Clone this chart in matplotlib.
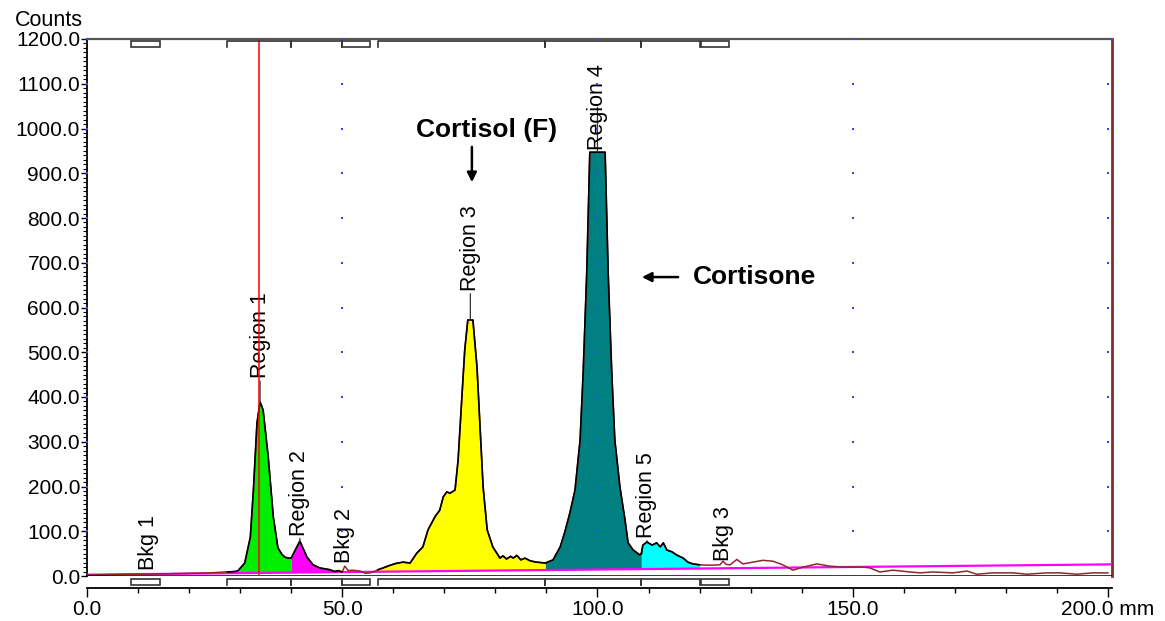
import matplotlib.pyplot as plt
import numpy as np
from matplotlib.patches import Rectangle
from matplotlib.ticker import MultipleLocator

plt.rcParams["font.family"] = ["Liberation Sans", "DejaVu Sans"]

# radio-TLC scan: position on the plate (mm) and counts
position = [
    0.0, 4.0, 8.0, 12.0, 16.0, 20.0, 24.0, 27.0, 27.5, 29.0, 29.6, 30.9, 32.0,
    32.6, 33.3, 33.9, 34.5, 35.5, 36.5, 37.4, 38.2, 38.8, 39.4, 40.0, 40.8,
    41.7, 42.4, 43.1, 44.3, 45.6, 47.6, 48.5, 49.2, 50.0, 50.5, 51.2, 52.0,
    53.5, 54.5, 55.5, 56.3, 57.0, 58.0, 59.4, 60.5, 61.9, 63.3, 64.6, 65.8,
    66.8, 68.2, 69.1, 69.8, 70.5, 71.1, 72.1, 72.7, 73.4, 74.0, 74.6, 75.6,
    76.4, 77.0, 77.6, 78.4, 79.5, 80.9, 81.5, 82.2, 83.0, 83.5, 84.2, 85.0,
    85.8, 86.8, 88.0, 89.8, 91.3, 92.7, 93.6, 94.6, 95.6, 96.6, 97.2, 97.9,
    98.5, 101.5, 102.1, 102.8, 103.4, 104.4, 105.4, 106.0, 107.0, 108.3,
    108.6, 108.9, 109.7, 110.7, 111.6, 112.3, 112.9, 113.6, 114.6, 115.5,
    116.8, 117.7, 118.7, 120.0, 122.0, 124.0, 124.6, 125.2, 126.0, 127.3,
    128.5, 130.5, 132.4, 134.4, 136.3, 138.3, 140.3, 143.0, 145.5, 148.1,
    152.0, 153.4, 155.3, 157.9, 161.2, 163.2, 165.7, 169.6, 172.4, 174.3,
    177.5, 181.4, 184.1, 188.0, 190.6, 193.9, 197.0, 200.0,
]
counts = [
    2, 3, 4, 4, 5, 6, 7, 9, 9, 10, 12, 29, 87,
    192, 342, 389, 371, 266, 132, 63, 48, 42, 40, 40, 58,
    78, 60, 42, 25, 18, 14, 10, 12, 9, 22, 12, 13,
    11, 6, 7, 10, 14, 18, 24, 28, 31, 29, 51, 65,
    103, 133, 147, 177, 188, 185, 192, 259, 393, 505, 572, 572,
    467, 333, 199, 103, 65, 40, 45, 38, 44, 40, 46, 36,
    40, 34, 31, 29, 36, 65, 98, 141, 192, 304, 454, 677,
    947, 947, 677, 454, 304, 199, 125, 74, 58, 47,
    50, 69, 76, 69, 74, 65, 74, 58, 54, 47,
    40, 31, 27, 25, 24, 25, 33, 26, 25, 37,
    27, 31, 35, 33, 25, 13, 20, 27, 22, 20,
    20, 18, 9, 13, 9, 7, 9, 7, 11, 4,
    7, 7, 4, 7, 7, 4, 7, 7,
]

# background line
baseline_pos = [0.0, 200.8]
baseline_counts = [3.0, 26.0]

region_names = ["Region 1", "Region 2", "Region 3", "Region 4", "Region 5"]
region_start = [27.5, 40.0, 57.0, 89.8, 108.6]
region_end = [40.0, 50.0, 89.8, 108.6, 120.0]
region_colors = ["#00ee00", "#ff00ff", "#ffff00", "#008080", "#00ffff"]
region_label_offset = [17, 4, 21, 1.5, 3]  # points above the peak

bkg_names = ["Bkg 1", "Bkg 2", "Bkg 3"]
bkg_start = [8.6, 50.0, 120.2]
bkg_end = [14.3, 55.5, 125.8]
bkg_label_offset = [3, 2, 0.5]

cursor_pos = 33.7

x_ticks = [0, 50, 100, 150, 200]
x_tick_labels = ["0.0", "50.0", "100.0", "150.0", "200.0 mm"]
y_ticks = list(range(0, 1201, 100))

pos = np.array(position)
cnt = np.array(counts, dtype=float)
base = np.interp(pos, baseline_pos, baseline_counts)

fig = plt.figure(figsize=(11.65, 6.21), dpi=100)
ax = fig.add_axes([87 / 1165, 45 / 621, 1025 / 1165, 537 / 621])
ax.set_xlim(0, 200.8)
ax.set_ylim(0, 1200)

# peak regions
for name, lo, hi, col, off in zip(region_names, region_start, region_end,
                                  region_colors, region_label_offset):
    m = (pos >= lo) & (pos <= hi)
    ax.fill_between(pos[m], base[m], cnt[m], color=col, lw=0, zorder=2)
    ax.plot(pos[m], cnt[m], color="black", lw=1.2, zorder=5)
    top = cnt[m].max()
    px = pos[m][cnt[m] == top].mean()
    ax.annotate(name, xy=(px, top), xytext=(0, off), textcoords="offset points",
                rotation=90, ha="center", va="bottom", fontsize=15.5, zorder=6,
                arrowprops=dict(arrowstyle="-", color="#333333", lw=0.9,
                                shrinkA=0, shrinkB=0))

for name, lo, hi, off in zip(bkg_names, bkg_start, bkg_end, bkg_label_offset):
    m = (pos >= lo) & (pos <= hi)
    top = cnt[m].max()
    px = pos[m][cnt[m] == top].mean()
    ax.annotate(name, xy=(px, top), xytext=(0, off), textcoords="offset points",
                rotation=90, ha="center", va="bottom", fontsize=15.5, zorder=6)

ax.plot(pos, cnt, color="#8b2a2a", lw=1.1, zorder=4)
ax.plot(baseline_pos, baseline_counts, color="#ff00ff", lw=1.6, zorder=3)
ax.axhline(0, color="black", lw=1.8, zorder=6)
ax.axvline(cursor_pos, color="red", lw=1.1, zorder=7)

# grid dots
gx, gy = np.meshgrid(x_ticks, y_ticks[1:])
ax.scatter(gx.ravel(), gy.ravel(), s=3, color="#3344ff", marker="s", lw=0,
           zorder=8, clip_on=False)

# region brackets on top and bottom strips
trans = ax.get_xaxis_transform()
h = 537.0
for y_hi, y_lo in [(1 - 1.5 / h, 1 - 7.5 / h), (-2.5 / h, -8.5 / h)]:
    for lo, hi in zip(region_start, region_end):
        ax.plot([lo, lo, hi, hi], [y_lo, y_hi, y_hi, y_lo], transform=trans,
                color="#333333", lw=1.2, clip_on=False, zorder=9)
    for lo, hi in zip(bkg_start, bkg_end):
        ax.add_patch(Rectangle((lo, y_lo), hi - lo, y_hi - y_lo, transform=trans,
                               fill=False, ec="#333333", lw=1.2, clip_on=False,
                               zorder=9))

# annotations
ax.text(78.3, 997, "Cortisol (F)", ha="center", va="center", fontsize=19,
        fontweight="bold")
ax.annotate("", xy=(75.4, 880), xytext=(75.4, 959),
            arrowprops=dict(arrowstyle="-|>", color="black", lw=1.8,
                            mutation_scale=14, shrinkA=0, shrinkB=0))
ax.text(118.7, 668, "Cortisone", ha="left", va="center", fontsize=19,
        fontweight="bold")
ax.annotate("", xy=(108.7, 668), xytext=(115.8, 668),
            arrowprops=dict(arrowstyle="-|>", color="black", lw=1.8,
                            mutation_scale=14, shrinkA=0, shrinkB=0))

# axes styling
ax.spines["bottom"].set_position(("outward", 8.6))
ax.spines["bottom"].set_linewidth(1.3)
ax.spines["left"].set_linewidth(1.3)
ax.spines["top"].set_color("#555555")
ax.spines["top"].set_linewidth(1.6)
ax.spines["right"].set_color("#7b3030")
ax.spines["right"].set_linewidth(2)

ax.set_xticks(x_ticks)
ax.set_xticklabels(x_tick_labels)
ax.set_yticks(y_ticks)
ax.set_yticklabels([f"{v:.1f}" for v in y_ticks])
ax.xaxis.set_minor_locator(MultipleLocator(10))
ax.yaxis.set_minor_locator(MultipleLocator(10))
ax.tick_params(axis="x", which="major", length=6.5, width=1, pad=2, labelsize=15)
ax.tick_params(axis="x", which="minor", length=3.6, width=1)
ax.tick_params(axis="y", which="major", length=4.5, width=1, pad=0.5, labelsize=15)
ax.tick_params(axis="y", which="minor", length=3, width=0.8)

fig.text(83 / 1165, 1 - 26 / 621, "Counts", ha="right", va="baseline",
         fontsize=15.5)

fig.savefig("out.png", dpi=100)
